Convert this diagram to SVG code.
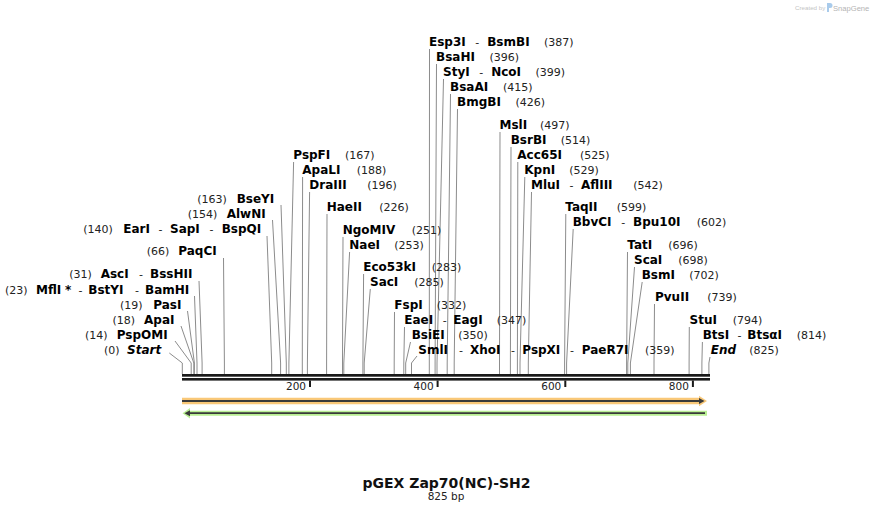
<svg xmlns="http://www.w3.org/2000/svg" width="893" height="513" viewBox="0 0 893 513">
<style>
.n{font-family:"DejaVu Sans",Verdana,sans-serif;font-size:12px;font-weight:bold;fill:#000}
.it{font-style:italic}
.c{font-family:"DejaVu Sans",Verdana,sans-serif;font-size:11px;fill:#222}
.h{font-family:"DejaVu Sans",Verdana,sans-serif;font-size:11px;fill:#222;text-anchor:middle}
.ln{stroke:#8c8c8c;stroke-width:1;fill:none}
.tk{font-family:"DejaVu Sans",Verdana,sans-serif;font-size:10.5px;fill:#222;text-anchor:end}
.title{font-family:"DejaVu Sans",Verdana,sans-serif;font-size:14px;font-weight:bold;fill:#111;text-anchor:middle}
.sub{font-family:"DejaVu Sans",Verdana,sans-serif;font-size:10.5px;fill:#222;text-anchor:middle}
</style>
<rect width="893" height="513" fill="#fff"/>

<g id="watermark">
<text x="795" y="9.5" font-family="Liberation Sans,Arial,sans-serif" font-size="6.2" fill="#c4c4c4">Created by</text>
<path d="M827,3 h3 a2.5,2.5 0 0 1 0,5 h-1 v4 h-2 z" fill="#a9cbeb"/>
<text x="833" y="10.5" font-family="Liberation Sans,Arial,sans-serif" font-size="7.6" fill="#b4b4b4">SnapGene</text>
</g>

<g id="connectors">
<path class="ln" d="M429.5,49 L429.3,363 V374"/>
<path class="ln" d="M436.5,64 L435.1,363 V374"/>
<path class="ln" d="M443.5,79 L437,363 V374"/>
<path class="ln" d="M450.5,94 L447.2,363 V374"/>
<path class="ln" d="M457.5,109 L454.2,363 V374"/>
<path class="ln" d="M500,132 L499.5,363 V374"/>
<path class="ln" d="M511,147 L510.4,363 V374"/>
<path class="ln" d="M517.8,162 L517.4,363 V374"/>
<path class="ln" d="M524.8,177 L520,363 V374"/>
<path class="ln" d="M531.5,192 L528.3,363 V374"/>
<path class="ln" d="M565.8,214 L564.6,363 V374"/>
<path class="ln" d="M573.2,229 L566.6,363 V374"/>
<path class="ln" d="M627.5,252 L626.6,363 V374"/>
<path class="ln" d="M634.5,267 L627.8,363 V374"/>
<path class="ln" d="M642.2,282 L630.4,363 V374"/>
<path class="ln" d="M654.5,304 L654,363 V374"/>
<path class="ln" d="M689.3,327 L689.1,363 V374"/>
<path class="ln" d="M702.4,342 L701.9,363 V374"/>
<path class="ln" d="M710,357 L708.9,363 V374"/>
<path class="ln" d="M293.6,162 L288.9,363 V374"/>
<path class="ln" d="M302.6,177 L302.3,363 V374"/>
<path class="ln" d="M309.6,192 L307.4,363 V374"/>
<path class="ln" d="M327,214 L326.6,363 V374"/>
<path class="ln" d="M343,237 L342.5,363 V374"/>
<path class="ln" d="M349.6,252 L343.8,363 V374"/>
<path class="ln" d="M363.6,274 L362.9,363 V374"/>
<path class="ln" d="M370.3,289 L364.2,363 V374"/>
<path class="ln" d="M394.5,312 L394.2,363 V374"/>
<path class="ln" d="M404.5,327 L403.8,363 V374"/>
<path class="ln" d="M410.5,342 L405.7,363 V374"/>
<path class="ln" d="M417,356 L411.5,363 V374"/>
<path class="ln" d="M281,205 L286.3,363 V374"/>
<path class="ln" d="M272.5,220 L280.6,363 V374"/>
<path class="ln" d="M267,236 L271.7,363 V374"/>
<path class="ln" d="M223.5,258 L224.4,363 V374"/>
<path class="ln" d="M199,281 L202.1,363 V374"/>
<path class="ln" d="M194.5,296 L197,363 V374"/>
<path class="ln" d="M187.5,311 L194.4,363 V374"/>
<path class="ln" d="M181,326 L193.8,363 V374"/>
<path class="ln" d="M175,341 L191.2,363 V374"/>
<path class="ln" d="M169.3,353 L182.3,363 V374"/>
</g>

<g id="ruler">
<rect x="182" y="374" width="528" height="2.7" fill="#1a1a1a"/>
<rect x="182" y="378" width="528" height="2.6" fill="#1a1a1a"/>
<rect x="309" y="380.5" width="2" height="6.5" fill="#1a1a1a"/>
<rect x="436.6" y="380.5" width="2" height="6.5" fill="#1a1a1a"/>
<rect x="564.3" y="380.5" width="2" height="6.5" fill="#1a1a1a"/>
<rect x="691.9" y="380.5" width="2" height="6.5" fill="#1a1a1a"/>
<text class="tk" x="306" y="390">200</text>
<text class="tk" x="433.6" y="390">400</text>
<text class="tk" x="561.3" y="390">600</text>
<text class="tk" x="688.9" y="390">800</text>
</g>

<g id="feature-forward">
<path d="M182,397.8 H699 V395.7 L707,401 L699,406.3 V404.2 H182 Z" fill="#f9c878"/>
<line x1="182" y1="401" x2="700" y2="401" stroke="#3a3a3a" stroke-width="1.8"/>
<path d="M699,398 L704.5,401 L699,404 Z" fill="#3a3a3a"/>
</g>
<g id="feature-reverse">
<path d="M707,410.7 H190 V408 L182.5,413.2 L190,418.4 V415.7 H707 Z" fill="#b9ef93"/>
<line x1="189" y1="413.2" x2="705" y2="413.2" stroke="#3a3a3a" stroke-width="1.8"/>
<path d="M190,410.2 L184.5,413.2 L190,416.2 Z" fill="#3a3a3a"/>
</g>

<g id="site-esp3i"><text class="n" x="429" y="46">Esp3I</text><text class="h" x="477.2" y="46">-</text><text class="n" x="487.2" y="46">BsmBI</text><text class="c" x="544" y="46">(387)</text></g>
<g id="site-bsahi"><text class="n" x="436" y="61">BsaHI</text><text class="c" x="489.5" y="61">(396)</text></g>
<g id="site-styi"><text class="n" x="443" y="76">StyI</text><text class="h" x="481.2" y="76">-</text><text class="n" x="491.2" y="76">NcoI</text><text class="c" x="535.5" y="76">(399)</text></g>
<g id="site-bsaai"><text class="n" x="450" y="91">BsaAI</text><text class="c" x="503" y="91">(415)</text></g>
<g id="site-bmgbi"><text class="n" x="457" y="106">BmgBI</text><text class="c" x="515.5" y="106">(426)</text></g>
<g id="site-msli"><text class="n" x="499.5" y="129">MslI</text><text class="c" x="540" y="129">(497)</text></g>
<g id="site-bsrbi"><text class="n" x="510.7" y="144">BsrBI</text><text class="c" x="560.7" y="144">(514)</text></g>
<g id="site-acc65i"><text class="n" x="517.3" y="159">Acc65I</text><text class="c" x="580" y="159">(525)</text></g>
<g id="site-kpni"><text class="n" x="524.3" y="174">KpnI</text><text class="c" x="569.3" y="174">(529)</text></g>
<g id="site-mlui"><text class="n" x="531" y="189">MluI</text><text class="h" x="571.6" y="189">-</text><text class="n" x="581" y="189">AflIII</text><text class="c" x="633.3" y="189">(542)</text></g>
<g id="site-taqii"><text class="n" x="565.3" y="211">TaqII</text><text class="c" x="616.7" y="211">(599)</text></g>
<g id="site-bbvci"><text class="n" x="572.7" y="226">BbvCI</text><text class="h" x="623.2" y="226">-</text><text class="n" x="633" y="226">Bpu10I</text><text class="c" x="696.7" y="226">(602)</text></g>
<g id="site-tati"><text class="n" x="627.3" y="249">TatI</text><text class="c" x="668.3" y="249">(696)</text></g>
<g id="site-scai"><text class="n" x="634" y="264">ScaI</text><text class="c" x="678.3" y="264">(698)</text></g>
<g id="site-bsmi"><text class="n" x="641.7" y="279">BsmI</text><text class="c" x="689.3" y="279">(702)</text></g>
<g id="site-pvuii"><text class="n" x="655" y="301">PvuII</text><text class="c" x="707.3" y="301">(739)</text></g>
<g id="site-stui"><text class="n" x="689.5" y="324">StuI</text><text class="c" x="732.7" y="324">(794)</text></g>
<g id="site-btsi"><text class="n" x="702.7" y="339">BtsI</text><text class="h" x="739.5" y="339">-</text><text class="n" x="747.3" y="339">BtsαI</text><text class="c" x="796.7" y="339">(814)</text></g>
<g id="site-end"><text class="n it" x="710.7" y="354">End</text><text class="c" x="749.3" y="354">(825)</text></g>

<g id="site-pspfi"><text class="n" x="293.3" y="159">PspFI</text><text class="c" x="345" y="159">(167)</text></g>
<g id="site-apali"><text class="n" x="302.3" y="174">ApaLI</text><text class="c" x="356.7" y="174">(188)</text></g>
<g id="site-draiii"><text class="n" x="309.3" y="189">DraIII</text><text class="c" x="367.3" y="189">(196)</text></g>
<g id="site-haeii"><text class="n" x="326.7" y="211">HaeII</text><text class="c" x="379.3" y="211">(226)</text></g>
<g id="site-ngomiv"><text class="n" x="342.7" y="234">NgoMIV</text><text class="c" x="411.7" y="234">(251)</text></g>
<g id="site-naei"><text class="n" x="349.3" y="249">NaeI</text><text class="c" x="394.3" y="249">(253)</text></g>
<g id="site-eco53ki"><text class="n" x="363.3" y="271">Eco53kI</text><text class="c" x="431.7" y="271">(283)</text></g>
<g id="site-saci"><text class="n" x="370" y="286">SacI</text><text class="c" x="414.3" y="286">(285)</text></g>
<g id="site-fspi"><text class="n" x="394.3" y="309">FspI</text><text class="c" x="436.7" y="309">(332)</text></g>
<g id="site-eaei"><text class="n" x="404.3" y="324">EaeI</text><text class="h" x="444.7" y="324">-</text><text class="n" x="453.3" y="324">EagI</text><text class="c" x="496.7" y="324">(347)</text></g>
<g id="site-bsiei"><text class="n" x="411.7" y="339">BsiEI</text><text class="c" x="458.3" y="339">(350)</text></g>
<g id="site-smli"><text class="n" x="418.3" y="354">SmlI</text><text class="h" x="461" y="354">-</text><text class="n" x="470" y="354">XhoI</text><text class="h" x="513" y="354">-</text><text class="n" x="522.3" y="354">PspXI</text><text class="h" x="572" y="354">-</text><text class="n" x="581.7" y="354">PaeR7I</text><text class="c" x="645" y="354">(359)</text></g>

<g id="site-bseyi"><text class="c" x="197.3" y="203">(163)</text><text class="n" x="236.7" y="203">BseYI</text></g>
<g id="site-alwni"><text class="c" x="187.7" y="218">(154)</text><text class="n" x="226.7" y="218">AlwNI</text></g>
<g id="site-eari"><text class="c" x="83.3" y="233">(140)</text><text class="n" x="123.3" y="233">EarI</text><text class="h" x="160.5" y="233">-</text><text class="n" x="170" y="233">SapI</text><text class="h" x="211.5" y="233">-</text><text class="n" x="221.7" y="233">BspQI</text></g>
<g id="site-paqci"><text class="c" x="146.7" y="255">(66)</text><text class="n" x="178.3" y="255">PaqCI</text></g>
<g id="site-asci"><text class="c" x="69.3" y="278">(31)</text><text class="n" x="100.7" y="278">AscI</text><text class="h" x="141" y="278">-</text><text class="n" x="150" y="278">BssHII</text></g>
<g id="site-mfli"><text class="c" x="5" y="294">(23)</text><text class="n" x="36" y="294">MflI</text><text class="n" x="65" y="294">*</text><text class="h" x="80.5" y="294">-</text><text class="n" x="88.3" y="294">BstYI</text><text class="h" x="137" y="294">-</text><text class="n" x="145" y="294">BamHI</text></g>
<g id="site-pasi"><text class="c" x="120" y="309">(19)</text><text class="n" x="153.3" y="309">PasI</text></g>
<g id="site-apai"><text class="c" x="112.5" y="324">(18)</text><text class="n" x="144" y="324">ApaI</text></g>
<g id="site-pspomi"><text class="c" x="85" y="339">(14)</text><text class="n" x="116.7" y="339">PspOMI</text></g>
<g id="site-start"><text class="c" x="104" y="354">(0)</text><text class="n it" x="127" y="354">Start</text></g>

<g id="title">
<text class="title" x="446.5" y="487.5">pGEX Zap70(NC)-SH2</text>
<text class="sub" x="446" y="500">825 bp</text>
</g>
</svg>
